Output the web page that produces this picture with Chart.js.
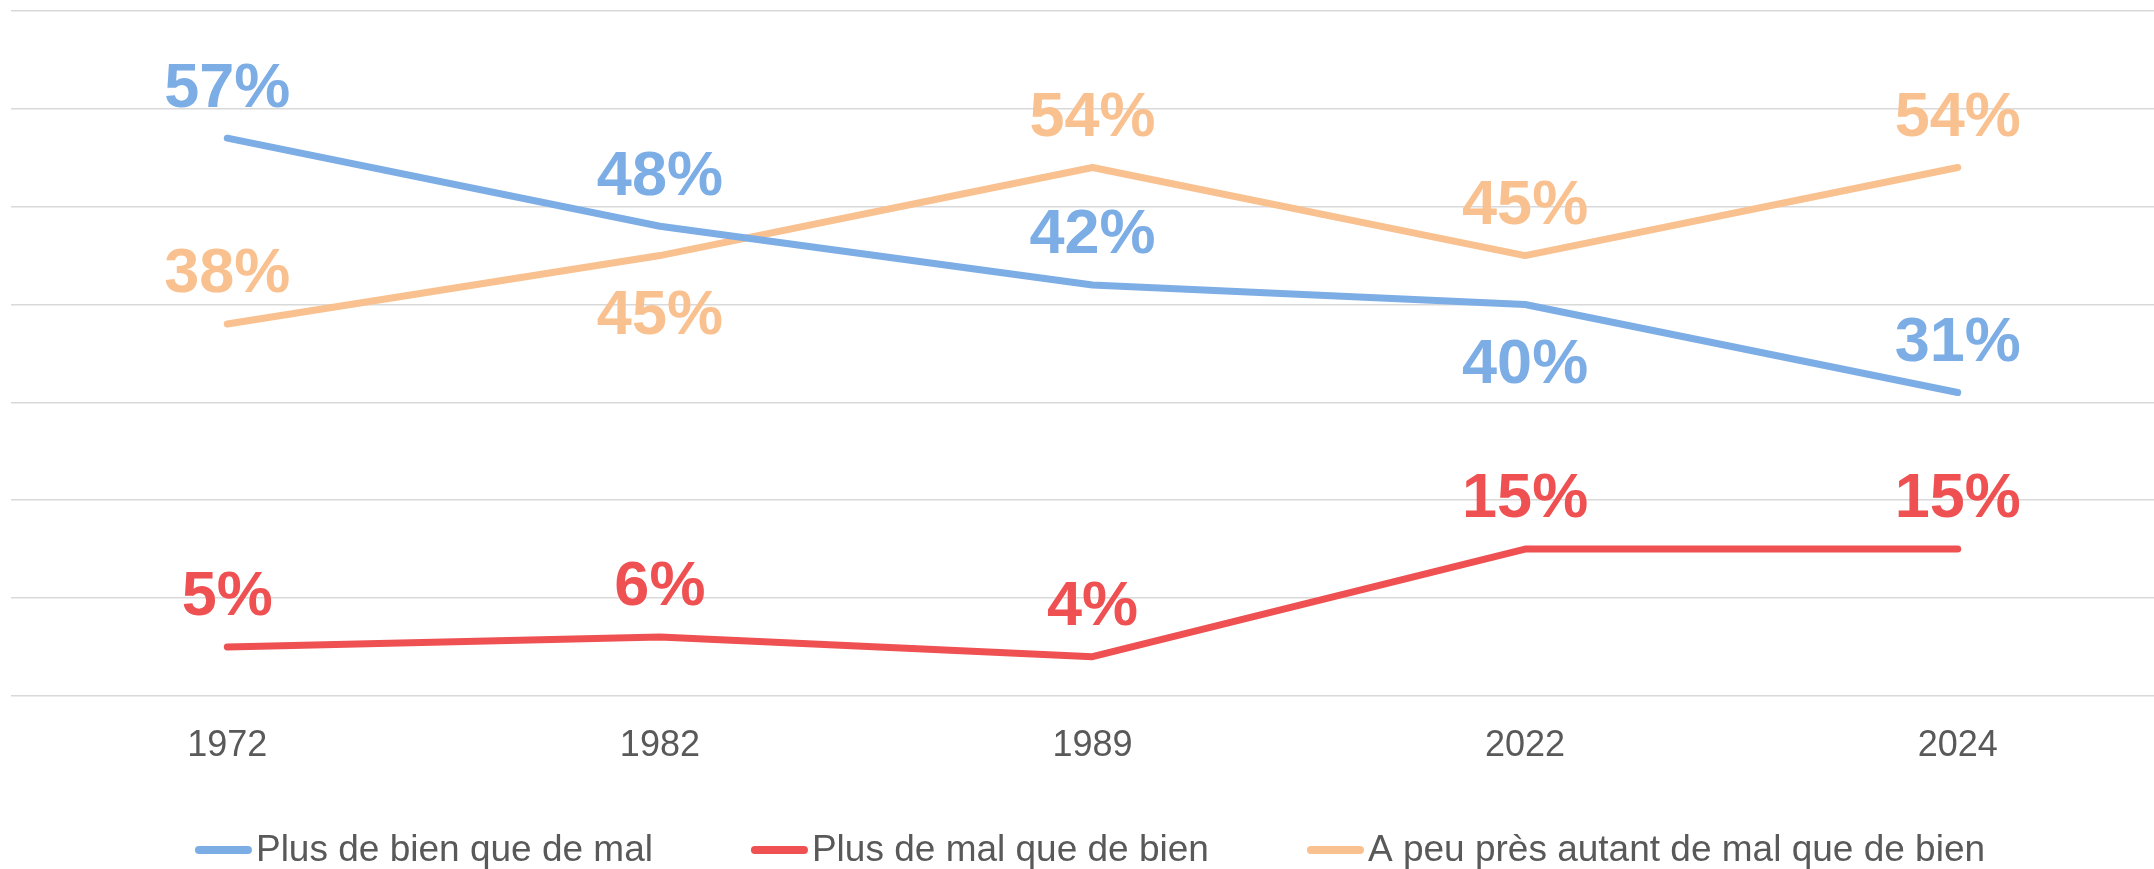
<!DOCTYPE html>
<html>
<head>
<meta charset="utf-8">
<script src="https://cdn.jsdelivr.net/npm/chart.js@4/dist/chart.umd.min.js"></script>
<style>
  html, body { margin: 0; padding: 0; background: #fff; overflow: hidden; }
  #wrap { width: 2154px; height: 869px; overflow: hidden; }
</style>
</head>
<body>
<div id="wrap"><canvas id="chart" width="2176" height="869"></canvas></div>
<script>
// Data
const years = ["1972", "1982", "1989", "2022", "2024"];
const plusBien = [57, 48, 42, 40, 31];
const plusMal = [5, 6, 4, 15, 15];
const autant = [38, 45, 54, 45, 54];

const seriesNames = [
    "Plus de bien que de mal",
    "Plus de mal que de bien",
    "A peu près autant de mal que de bien"
];

// Label placement per point (above / below the line)
const bienPos = ["up", "up", "up", "down", "up"];
const malPos = ["up", "up", "up", "up", "up"];
const autantPos = ["up", "down", "up", "up", "up"];

const BLUE = "#7DADE5";
const RED = "#EF5052";
const ORANGE = "#F9C18F";
const TEXT = "#595959";
const FONT = "'Liberation Sans', Arial, sans-serif";

function makeDataset(label, data, color, pos) {
    return {
        label,
        data,
        borderColor: color,
        backgroundColor: color,
        borderWidth: 7,
        borderCapStyle: "round",
        borderJoinStyle: "round",
        pointRadius: 0,
        pointHoverRadius: 0,
        tension: 0,
        fill: false,
        labelPos: pos
    };
}

// Draws the big percentage labels next to each point
const valueLabels = {
    id: "valueLabels",
    afterDatasetsDraw(chart) {
        const ctx = chart.ctx;
        ctx.save();
        ctx.font = "bold 63px " + FONT;
        ctx.textAlign = "center";
        ctx.textBaseline = "middle";
        chart.data.datasets.forEach((ds, i) => {
            const meta = chart.getDatasetMeta(i);
            ctx.fillStyle = ds.borderColor;
            meta.data.forEach((pt, j) => {
                const dy = ds.labelPos[j] === "down" ? 61 : -49;
                ctx.fillText(ds.data[j] + "%", pt.x, pt.y + dy);
            });
        });
        ctx.restore();
    }
};

// Bottom legend with short line markers
const lineLegend = {
    id: "lineLegend",
    afterDraw(chart) {
        const ctx = chart.ctx;
        const lineLen = 57, textGap = 4, itemGap = 98, y = 851;
        ctx.save();
        ctx.font = "37px " + FONT;
        ctx.textBaseline = "middle";
        const items = chart.data.datasets.map((ds) => ({
            color: ds.borderColor,
            text: ds.label,
            w: lineLen + textGap + ctx.measureText(ds.label).width
        }));
        const total = items.reduce((s, it) => s + it.w, 0) + itemGap * (items.length - 1);
        let x = 1090 - total / 2;
        items.forEach((it) => {
            ctx.strokeStyle = it.color;
            ctx.lineWidth = 8;
            ctx.lineCap = "round";
            ctx.beginPath();
            ctx.moveTo(x + 4, y - 1);
            ctx.lineTo(x + lineLen - 4, y - 1);
            ctx.stroke();
            ctx.fillStyle = TEXT;
            ctx.fillText(it.text, x + lineLen + textGap, y);
            x += it.w + itemGap;
        });
        ctx.restore();
    }
};

new Chart(document.getElementById("chart"), {
    type: "line",
    data: {
        labels: years,
        datasets: [
            makeDataset(seriesNames[0], plusBien, BLUE, bienPos),
            makeDataset(seriesNames[1], plusMal, RED, malPos),
            makeDataset(seriesNames[2], autant, ORANGE, autantPos)
        ]
    },
    options: {
        responsive: false,
        animation: false,
        devicePixelRatio: 1,
        layout: { padding: { left: 11, right: 2, top: 11, bottom: 80 } },
        plugins: {
            legend: { display: false },
            tooltip: { enabled: false }
        },
        scales: {
            x: {
                offset: true,
                grid: { display: false },
                border: { display: false },
                ticks: {
                    color: TEXT,
                    font: { family: FONT, size: 36 },
                    padding: 21,
                    maxRotation: 0
                }
            },
            y: {
                min: 0,
                max: 70,
                ticks: { display: false, stepSize: 10 },
                grid: { color: "#D9D9D9", lineWidth: 1.5, drawTicks: false },
                border: { display: false }
            }
        }
    },
    plugins: [valueLabels, lineLegend]
});
</script>
</body>
</html>
